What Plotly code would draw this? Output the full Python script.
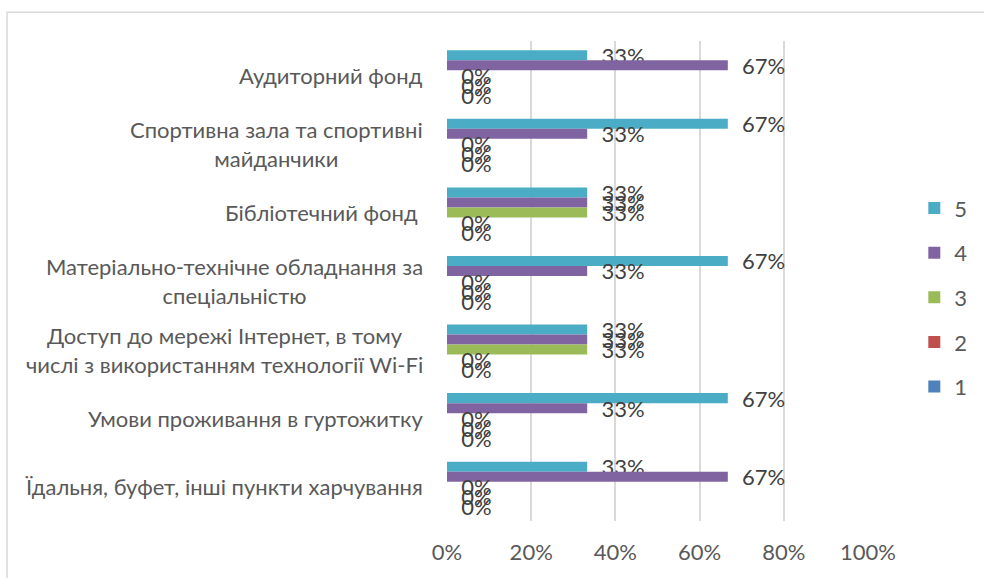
import plotly.graph_objects as go

categories = [
    "Аудиторний фонд",
    "Спортивна зала та спортивні<br>майданчики",
    "Бібліотечний фонд ",
    "Матеріально-технічне обладнання за<br>спеціальністю",
    "Доступ до мережі Інтернет, в тому<br>числі з використанням технології Wi-Fi",
    "Умови проживання в гуртожитку",
    "Їдальня, буфет, інші пункти харчування",
]
series_names = ["5", "4", "3", "2", "1"]
s5 = [33.3, 66.7, 33.3, 66.7, 33.3, 66.7, 33.3]
s4 = [66.7, 33.3, 33.3, 33.3, 33.3, 33.3, 66.7]
s3 = [0, 0, 33.3, 0, 33.3, 0, 0]
s2 = [0, 0, 0, 0, 0, 0, 0]
s1 = [0, 0, 0, 0, 0, 0, 0]
series_values = [s5, s4, s3, s2, s1]
colors = ["#4BACC6", "#8064A2", "#9BBB59", "#C0504D", "#4F81BD"]
x_ticks = [0, 20, 40, 60, 80, 100]
x_ticktext = ["0%", "20%", "40%", "60%", "80%", "100%"]

FONT = "Lato, 'Liberation Sans', sans-serif"
FS = 22

fig = go.Figure()
for name, vals, col in zip(series_names, series_values, colors):
    fig.add_trace(go.Bar(
        y=categories, x=vals, name=name, orientation="h",
        marker=dict(color=col, line=dict(width=0)),
        texttemplate="\u00a0\u00a0%{x:.0f}%",
        textposition="outside", constraintext="none", cliponaxis=False,
        textfont=dict(family=FONT, size=FS, color="#404040"),
        legendgroup=name,
    ))

for c in categories:
    fig.add_annotation(
        x=0, xref="paper", y=c, yref="y", text=c, showarrow=False,
        xanchor="right", yanchor="middle", align="center", xshift=-22,
        font=dict(family=FONT, size=FS, color="#595959"),
    )

fig.add_shape(type="rect", xref="paper", yref="paper",
              x0=-1.045, x1=1.3, y0=-0.2, y1=1.06,
              line=dict(color="#D9D9D9", width=1.5), fillcolor="rgba(0,0,0,0)", layer="below")

fig.update_layout(
    width=984, height=578,
    margin=dict(l=447, r=116, t=41, b=57),
    paper_bgcolor="white", plot_bgcolor="white",
    barmode="group", bargap=0.27, bargroupgap=0,
    font=dict(family=FONT, size=FS, color="#595959"),
    legend=dict(x=1.11, xanchor="left", y=0.466, yanchor="middle",
                tracegroupgap=13, font=dict(family=FONT, size=FS, color="#595959"),
                traceorder="grouped"),
    xaxis=dict(range=[0, 100], tickvals=x_ticks, ticktext=x_ticktext,
               showgrid=True, gridcolor="#D9D9D9", gridwidth=1.5,
               zeroline=False, showline=False, ticks="", ticklabelstandoff=16,
               tickfont=dict(family=FONT, size=FS, color="#595959")),
    yaxis=dict(autorange="reversed", showticklabels=False, showgrid=False,
               zeroline=False, showline=False, ticks=""),
)

fig.write_html("out.html")
